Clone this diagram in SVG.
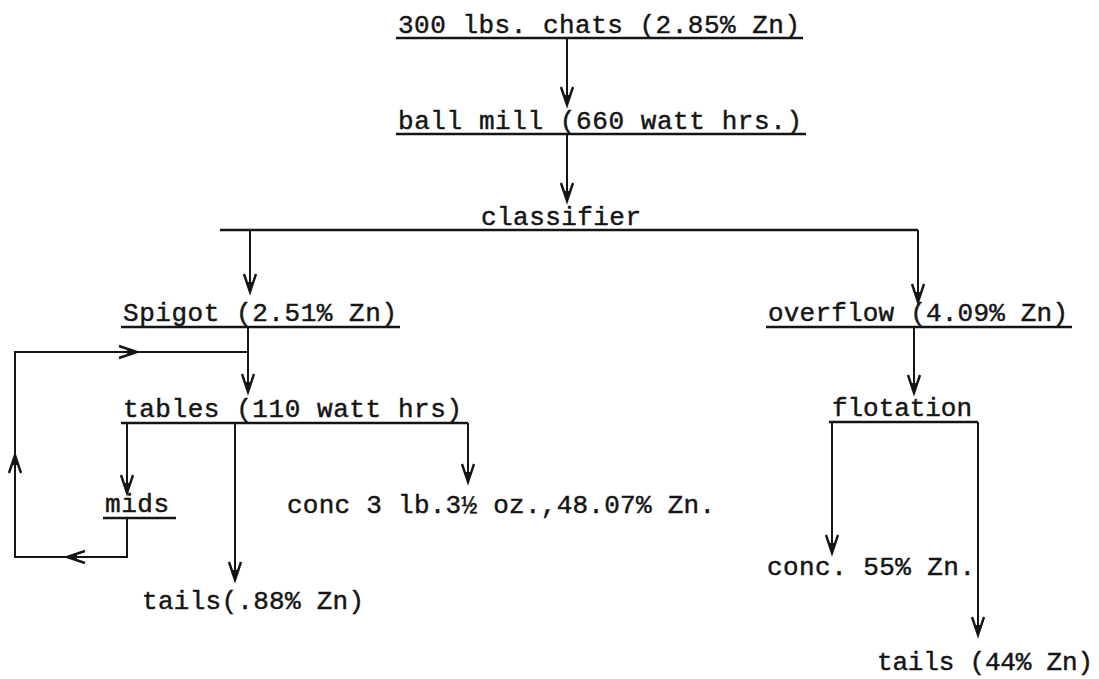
<svg xmlns="http://www.w3.org/2000/svg" width="1099" height="679" viewBox="0 0 1099 679">
<style>
.t{font-family:"Liberation Mono","DejaVu Sans Mono",monospace;font-size:26px;fill:#151515;stroke:#151515;stroke-width:0.45;}
.u{stroke:#151515;stroke-width:2.6;fill:none;}
.c{stroke:#151515;stroke-width:2;fill:none;}
.a{marker-end:url(#ah);}
</style>
<defs>
<marker id="ah" markerUnits="userSpaceOnUse" markerWidth="30" markerHeight="30" refX="0" refY="0" orient="auto" overflow="visible">
<path d="M-18,-6 L0,0 L-18,6" fill="none" stroke="#151515" stroke-width="2.4"/>
<path d="M0,0 L-10,-3.2 L-10,3.2 Z" fill="#151515"/>
</marker>
</defs>
<rect width="1099" height="679" fill="#ffffff"/>
<g id="connectors">
<path class="c a" d="M567,38 V105"/>
<path class="c a" d="M567,134 V201"/>
<path class="u" d="M220,230 H918"/>
<path class="c a" d="M250,230 V292"/>
<path class="c a" d="M918,230 V302"/>
<path class="c a" d="M248,327 V392"/>
<path class="c a" d="M127,518 V557 H67"/>
<path class="c a" d="M67,557 H15 V455"/>
<path class="c a" d="M15,455 V352 H137"/>
<path class="c" d="M137,352 H248"/>
<path class="c a" d="M127,423 V493"/>
<path class="c a" d="M235,423 V580"/>
<path class="c a" d="M468,423 V482"/>
<path class="c a" d="M914,327 V393"/>
<path class="c a" d="M832,422 V553"/>
<path class="c a" d="M978,422 V635"/>
</g>
<g id="chats">
<text class="t" x="398" y="33" textLength="402" lengthAdjust="spacing">300 lbs. chats (2.85% Zn)</text>
<path class="u" d="M396,38 H803"/>
</g>
<g id="ballmill">
<text class="t" x="398" y="129" textLength="404" lengthAdjust="spacing">ball mill (660 watt hrs.)</text>
<path class="u" d="M396,134 H806"/>
</g>
<g id="classifier">
<text class="t" x="481" y="225" textLength="160" lengthAdjust="spacing">classifier</text>
</g>
<g id="spigot">
<text class="t" x="123" y="321" textLength="274" lengthAdjust="spacing">Spigot (2.51% Zn)</text>
<path class="u" d="M121,327 H400"/>
</g>
<g id="overflow">
<text class="t" x="768" y="321" textLength="300" lengthAdjust="spacing">overflow (4.09% Zn)</text>
<path class="u" d="M766,327 H1072"/>
</g>
<g id="tables">
<text class="t" x="123" y="417" textLength="339" lengthAdjust="spacing">tables (110 watt hrs)</text>
<path class="u" d="M121,423 H468"/>
</g>
<g id="mids">
<text class="t" x="105" y="512" textLength="64" lengthAdjust="spacing">mids</text>
<path class="u" d="M103,518 H176"/>
</g>
<g id="conc-tables">
<text class="t" x="287" y="513" textLength="428" lengthAdjust="spacing">conc 3 lb.3½ oz.,48.07% Zn.</text>
</g>
<g id="tails-tables">
<text class="t" x="142" y="609" textLength="222" lengthAdjust="spacing">tails(.88% Zn)</text>
</g>
<g id="flotation">
<text class="t" x="832" y="416" textLength="140" lengthAdjust="spacing">flotation</text>
<path class="u" d="M829,422 H978"/>
</g>
<g id="conc-flotation">
<text class="t" x="767" y="575" textLength="208" lengthAdjust="spacing">conc. 55% Zn.</text>
</g>
<g id="tails-flotation">
<text class="t" x="877" y="670" textLength="216" lengthAdjust="spacing">tails (44% Zn)</text>
</g>
</svg>
